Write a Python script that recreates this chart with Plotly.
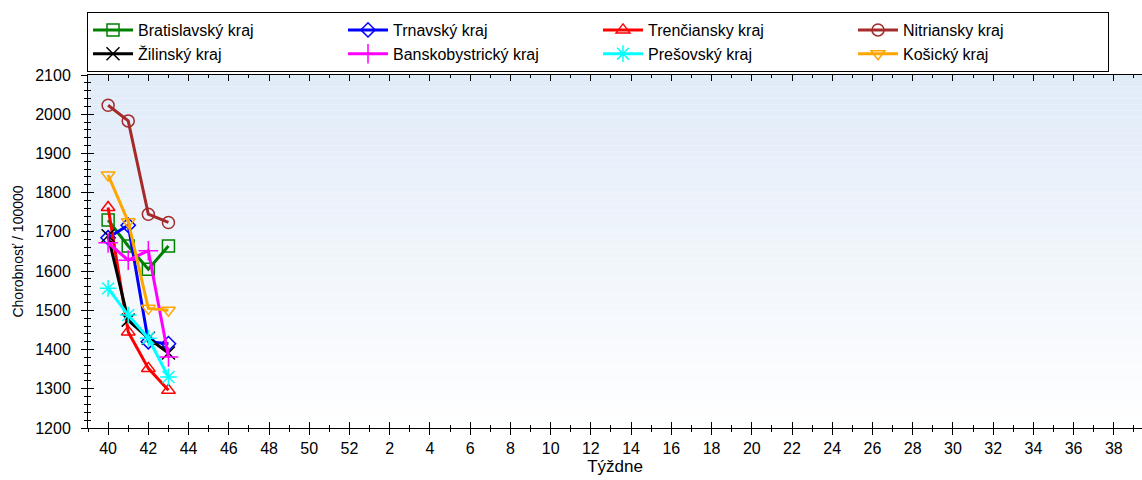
import plotly.graph_objects as go

weeks = [str(w) for w in list(range(40, 53)) + list(range(1, 40))]
x_idx = list(range(len(weeks)))

names = ["Bratislavský kraj", "Trnavský kraj", "Trenčiansky kraj", "Nitriansky kraj",
         "Žilinský kraj", "Banskobystrický kraj", "Prešovský kraj", "Košický kraj"]

bratislavsky = [1730, 1664, 1605, 1664]
trnavsky = [1685, 1717, 1420, 1415]
trenciansky = [1762, 1445, 1352, 1296]
nitriansky = [2023, 1983, 1745, 1724]
zilinsky = [1690, 1475, 1429, 1391]
banskobystricky = [1672, 1628, 1652, 1381]
presovsky = [1556, 1488, 1429, 1330]
kosicky = [1845, 1726, 1505, 1500]

series = [bratislavsky, trnavsky, trenciansky, nitriansky,
          zilinsky, banskobystricky, presovsky, kosicky]
colors = ["#008000", "#0000ff", "#ff0000", "#a52a2a",
          "#000000", "#ff00ff", "#00ffff", "#ffa500"]
symbols = ["square-open", "diamond-open", "triangle-up-open", "circle-open",
           "x-thin-open", "cross-thin-open", "asterisk-open", "triangle-down-open"]
sizes = [12, 11, 12, 12, 13, 14, 14, 12]

font = "Liberation Sans"
fig = go.Figure()
for name, vals, c, s, sz in zip(names, series, colors, symbols, sizes):
    fig.add_trace(go.Scatter(
        x=x_idx[:len(vals)], y=vals, name=name, mode="lines+markers",
        line=dict(color=c, width=3),
        marker=dict(symbol=s, size=sz, color=c, line=dict(color=c, width=1.5)),
    ))

# helper trace for overlay axes (inside ticks)
fig.add_trace(go.Scatter(x=[None], y=[None], xaxis="x2", yaxis="y2",
                         showlegend=False, hoverinfo="skip"))

xr = [-1, 51.4]
yr = [1200, 2100]
even_idx = x_idx[::2]
even_txt = weeks[::2]

# gradient background strips
n = 60
top = (0xe0, 0xeb, 0xf8)
for i in range(n):
    t = i / (n - 1)
    r = int(round(top[0] + (255 - top[0]) * t))
    g = int(round(top[1] + (255 - top[1]) * t))
    b = int(round(top[2] + (255 - top[2]) * t))
    fig.add_shape(type="rect", xref="paper", yref="paper",
                  x0=0, x1=1, y0=1 - (i + 1) / n, y1=1 - i / n,
                  fillcolor=f"rgb({r},{g},{b})", line=dict(width=0), layer="below")

fig.update_layout(
    width=1142, height=480,
    margin=dict(l=88, r=0, t=75, b=52, autoexpand=False),
    paper_bgcolor="white", plot_bgcolor="white",
    font=dict(family=font, size=16, color="black"),
    showlegend=True,
    legend=dict(
        orientation="h", xref="container", yref="container",
        x=87 / 1142, y=1 - 12 / 480, xanchor="left", yanchor="top",
        entrywidth=200, entrywidthmode="pixels",
        bordercolor="black", borderwidth=1, bgcolor="white",
        font=dict(family=font, size=16), tracegroupgap=0,
        itemwidth=40,
    ),
    xaxis=dict(
        range=xr, tickmode="array", tickvals=even_idx, ticktext=even_txt,
        ticks="outside", ticklen=6, tickwidth=1, tickcolor="black",
        minor=dict(tickmode="linear", tick0=0, dtick=1, ticks="outside", ticklen=3,
                   tickcolor="black", showgrid=False),
        showline=True, linecolor="black", linewidth=1, mirror=True,
        showgrid=False, zeroline=False,
        tickfont=dict(family=font, size=16),
        title=dict(text="Týždne", font=dict(family=font, size=17), standoff=2),
    ),
    xaxis2=dict(
        range=xr, overlaying="x", side="bottom", anchor="y",
        tickmode="array", tickvals=even_idx, showticklabels=False,
        ticks="inside", ticklen=6, tickwidth=1, tickcolor="black",
        minor=dict(tickmode="linear", tick0=0, dtick=1, ticks="inside", ticklen=3,
                   tickcolor="black", showgrid=False),
        showline=False, mirror="ticks", showgrid=False, zeroline=False,
    ),
    yaxis=dict(
        range=yr, tickmode="linear", tick0=1200, dtick=100,
        ticks="outside", ticklen=6, tickwidth=1, tickcolor="black",
        minor=dict(tickmode="linear", tick0=1200, dtick=20, ticks="outside", ticklen=3,
                   tickcolor="black", showgrid=False),
        showline=True, linecolor="black", linewidth=1,
        showgrid=False, zeroline=False, ticklabelstandoff=7,
        tickfont=dict(family=font, size=16),
        title=dict(text="Chorobnosť / 100000", font=dict(family=font, size=14), standoff=8),
    ),
    yaxis2=dict(
        range=yr, overlaying="y", side="left", anchor="x",
        tickmode="linear", tick0=1200, dtick=100, showticklabels=False,
        ticks="inside", ticklen=6, tickwidth=1, tickcolor="black",
        minor=dict(tickmode="linear", tick0=1200, dtick=20, ticks="inside", ticklen=3,
                   tickcolor="black", showgrid=False),
        showline=False, showgrid=False, zeroline=False,
    ),
)

fig.write_html("out.html", config={"displayModeBar": False},
               post_script="document.body.style.margin='0';document.body.style.overflow='hidden';")
